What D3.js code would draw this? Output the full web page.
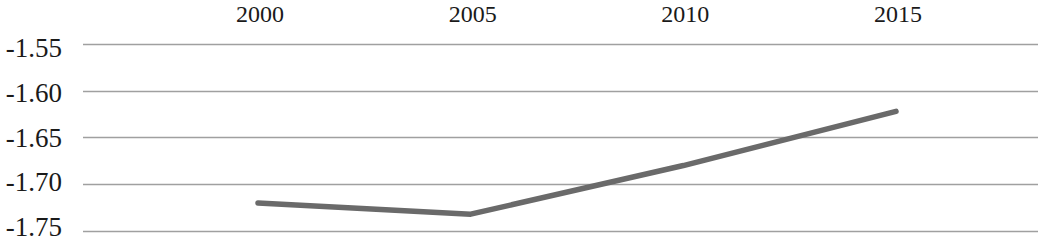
<!DOCTYPE html>
<html>
<head>
<meta charset="utf-8">
<script src="https://cdn.jsdelivr.net/npm/d3@7"></script>
<style>
  body { margin: 0; background: #fff; }
  svg text { font-family: "Liberation Serif", "DejaVu Serif", serif; fill: #1a1a1a; }
</style>
</head>
<body>
<svg id="chart" width="1045" height="243"></svg>
<script>
// data
var years = ["2000", "2005", "2010", "2015"];
var values = [-1.720, -1.732, -1.680, -1.622];
var yTicks = [-1.55, -1.60, -1.65, -1.70, -1.75];

var dimensions = {
    width: 1045,
    height: 243,
    margin: { top: 44, bottom: 12, left: 83, right: 7 }
};

var svg = d3.select("#chart");

// the points sit a bit off-centre in the plot, like the original spreadsheet chart
var xScale = d3.scalePoint()
    .domain(years)
    .range([258, 896]);

var yScale = d3.scaleLinear()
    .domain([-1.75, -1.55])
    .range([dimensions.height - dimensions.margin.bottom, dimensions.margin.top]);

// the tick labels are spaced a little tighter than the gridlines
var labelScale = d3.scaleLinear()
    .domain([-1.75, -1.55])
    .range([236, 57]);

// horizontal gridlines
svg.append("g")
    .selectAll("line")
    .data(yTicks)
    .enter()
    .append("line")
    .attr("x1", dimensions.margin.left)
    .attr("x2", dimensions.width - dimensions.margin.right)
    .attr("y1", d => Math.round(yScale(d)) + 0.5)
    .attr("y2", d => Math.round(yScale(d)) + 0.5)
    .attr("stroke", "#a0a0a0")
    .attr("stroke-width", 1.3);

// y labels
svg.append("g")
    .selectAll("text")
    .data(yTicks)
    .enter()
    .append("text")
    .attr("x", 62)
    .attr("y", d => labelScale(d))
    .attr("text-anchor", "end")
    .style("font-size", "27px")
    .text(d => d.toFixed(2));

// year labels along the top
svg.append("g")
    .selectAll("text")
    .data(years)
    .enter()
    .append("text")
    .attr("x", d => xScale(d) + 2)
    .attr("y", 22)
    .attr("text-anchor", "middle")
    .style("font-size", "24px")
    .text(d => d);

// the line
var line = d3.line()
    .x((d, i) => xScale(years[i]))
    .y(d => yScale(d));

svg.append("path")
    .datum(values)
    .attr("d", line)
    .attr("fill", "none")
    .attr("stroke", "#6a6a6a")
    .attr("stroke-width", 5.5)
    .attr("stroke-linecap", "round")
    .attr("stroke-linejoin", "round");
</script>
</body>
</html>
